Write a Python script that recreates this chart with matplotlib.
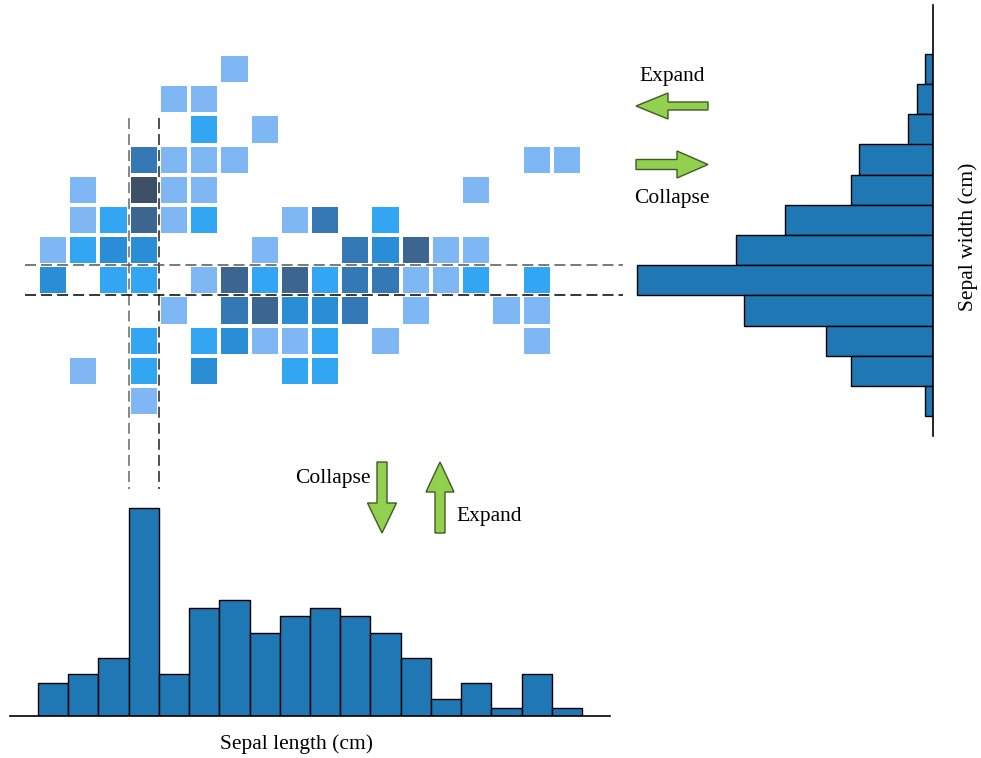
import numpy as np
import matplotlib
matplotlib.use('Agg')
import matplotlib.pyplot as plt
from matplotlib.colors import ListedColormap, BoundaryNorm
from matplotlib.patches import FancyArrow

plt.rcParams['font.family'] = ['Liberation Serif', 'DejaVu Serif']

# 2D histogram counts (rows: sepal width bins, top -> bottom; cols: sepal length bins)
grid = [
    [0, 0, 0, 0, 0, 0, 1, 0, 0, 0, 0, 0, 0, 0, 0, 0, 0, 0],
    [0, 0, 0, 0, 1, 1, 0, 0, 0, 0, 0, 0, 0, 0, 0, 0, 0, 0],
    [0, 0, 0, 0, 0, 2, 0, 1, 0, 0, 0, 0, 0, 0, 0, 0, 0, 0],
    [0, 0, 0, 4, 1, 1, 1, 0, 0, 0, 0, 0, 0, 0, 0, 0, 1, 1],
    [0, 1, 0, 6, 1, 1, 0, 0, 0, 0, 0, 0, 0, 0, 1, 0, 0, 0],
    [0, 1, 2, 5, 1, 2, 0, 0, 1, 4, 0, 2, 0, 0, 0, 0, 0, 0],
    [1, 2, 3, 3, 0, 0, 0, 1, 0, 0, 4, 3, 5, 1, 1, 0, 0, 0],
    [3, 0, 2, 2, 0, 1, 5, 2, 5, 2, 4, 4, 1, 1, 2, 0, 2, 0],
    [0, 0, 0, 0, 1, 0, 4, 5, 3, 3, 4, 0, 1, 0, 0, 1, 1, 0],
    [0, 0, 0, 2, 0, 2, 3, 1, 1, 2, 0, 1, 0, 0, 0, 0, 1, 0],
    [0, 1, 0, 2, 0, 3, 0, 0, 2, 2, 0, 0, 0, 0, 0, 0, 0, 0],
    [0, 0, 0, 1, 0, 0, 0, 0, 0, 0, 0, 0, 0, 0, 0, 0, 0, 0],
]
# marginal histograms
length_counts = [4, 5, 7, 25, 5, 13, 14, 10, 12, 13, 12, 10, 7, 2, 4, 1, 5, 1]
width_counts = [1, 2, 3, 9, 10, 18, 24, 36, 23, 13, 10, 1]  # top -> bottom
sel_col = 3
sel_row = 7

cell_colors = ['#7fb6f4', '#33a6f3', '#2a8ed6', '#3479b5', '#3c6690', '#3d5068']

W, H = 981, 758
fig = plt.figure(figsize=(W / 100, H / 100), dpi=100)


def px_axes(x0, y0, x1, y1):
    a = fig.add_axes([x0 / W, 1 - y1 / H, (x1 - x0) / W, (y1 - y0) / H])
    a.patch.set_visible(False)
    return a


# heatmap
ax = px_axes(38, 54, 582, 416)
z = np.ma.masked_equal(np.array(grid), 0)
cmap = ListedColormap(cell_colors)
norm = BoundaryNorm(np.arange(0.5, 7.5, 1), cmap.N)
ax.pcolormesh(np.arange(19), np.arange(13), z, cmap=cmap, norm=norm,
              edgecolors='white', linewidth=1.5)
ax.set_xlim(0, 18)
ax.set_ylim(12, 0)
ax.axis('off')

# crosshair dashed lines
dash = (0, (7.2, 3.3))
ax.plot([sel_col, sel_col], [2.12, 14.42], color='#666666', lw=1.1, ls=dash, clip_on=False)
ax.plot([sel_col + 1, sel_col + 1], [2.12, 14.42], color='#222222', lw=1.1, ls=dash, clip_on=False)
ax.plot([-0.43, 19.35], [sel_row, sel_row], color='#555555', lw=1.1, ls=dash, clip_on=False)
ax.plot([-0.43, 19.35], [sel_row + 1, sel_row + 1], color='black', lw=1.1, ls=dash, clip_on=False)

# bottom histogram (sepal length)
pxc = 544 / 18
axb = px_axes(10, 496, 610, 716)
axb.bar(np.arange(len(length_counts)), length_counts, width=1, align='edge',
        color='#1f77b4', edgecolor='black', linewidth=1)
axb.set_xlim(-28 / pxc, 18 + 28 / pxc)
axb.set_ylim(0, 220 / 8.32)
for s in ['top', 'left', 'right']:
    axb.spines[s].set_visible(False)
axb.spines['bottom'].set_linewidth(1.2)
axb.set_xticks([])
axb.set_yticks([])

# right histogram (sepal width)
pxr = 362 / 12
axr = px_axes(630, 5, 933, 436)
axr.barh(np.arange(len(width_counts))[::-1], width_counts, height=1, align='edge',
         color='#1f77b4', edgecolor='black', linewidth=1)
axr.set_ylim(-20 / pxr, 12 + 49 / pxr)
axr.set_xlim(303 / 8.22, 0)
for s in ['top', 'left', 'bottom']:
    axr.spines[s].set_visible(False)
axr.spines['right'].set_linewidth(1.2)
axr.set_xticks([])
axr.set_yticks([])

# overlay for labels and arrows (pixel coordinates)
ov = fig.add_axes([0, 0, 1, 1])
ov.set_xlim(0, W)
ov.set_ylim(H, 0)
ov.axis('off')

fs = 15.5
ov.text(296, 744, 'Sepal length (cm)', ha='center', va='center', fontsize=fs)
ov.text(968, 237, 'Sepal width (cm)', ha='center', va='center', fontsize=fs, rotation=90)

green = '#92d050'
edge = '#3f5a24'
akw = dict(length_includes_head=True, facecolor=green, edgecolor=edge, linewidth=1.0)
ov.add_patch(FancyArrow(708, 106, -72, 0, width=8, head_width=26, head_length=32, **akw))
ov.add_patch(FancyArrow(636, 164.5, 72, 0, width=10, head_width=27, head_length=31, **akw))
ov.add_patch(FancyArrow(382, 462, 0, 71, width=10, head_width=29, head_length=30, **akw))
ov.add_patch(FancyArrow(440, 533, 0, -71, width=10, head_width=28, head_length=30, **akw))

ov.text(672, 77, 'Expand', ha='center', va='center', fontsize=fs)
ov.text(672, 198, 'Collapse', ha='center', va='center', fontsize=fs)
ov.text(333, 478, 'Collapse', ha='center', va='center', fontsize=fs)
ov.text(489, 517, 'Expand', ha='center', va='center', fontsize=fs)

fig.savefig('out.png', dpi=100)
